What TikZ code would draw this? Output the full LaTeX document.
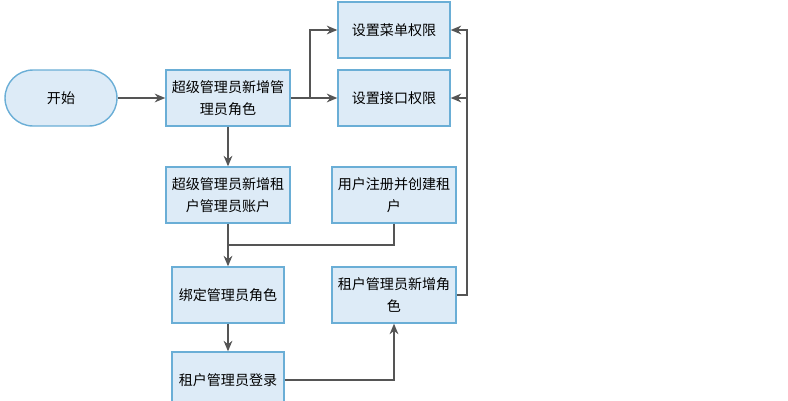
\documentclass[tikz,border=0pt]{standalone}
\usepackage{fontspec}
\setmainfont{Noto Sans CJK SC}
\usetikzlibrary{positioning,arrows.meta}
\definecolor{boxfill}{HTML}{DDEBF7}
\definecolor{boxline}{HTML}{6AAED6}
\definecolor{linegray}{HTML}{555555}
\tikzset{
 box/.style={rectangle, draw=boxline, fill=boxfill, thick, minimum width=2.24cm, minimum height=1.12cm, align=center, font=\fontsize{8}{12.5}\selectfont},
 startbox/.style={box, rounded corners=0.56cm},
 flow/.style={-{Stealth[length=6pt,width=5pt]}, draw=linegray, thick}
}
\begin{document}
\begin{tikzpicture}[x=0.02cm, y=-0.02cm]
  \useasboundingbox (0,0) rectangle (788,400);
  %Nodes
  \node[startbox] (start) at (61,98) {开始};
  \node[box] (addrole) at (228,98) {超级管理员新增管\\理员角色};
  \node[box] (menu) at (394,30) {设置菜单权限};
  \node[box] (iface) at (394,98) {设置接口权限};
  \node[box] (addacct) at (228,195) {超级管理员新增租\\户管理员账户};
  \node[box] (register) at (394,195) {用户注册并创建租\\户};
  \node[box] (bind) at (228,295) {绑定管理员角色};
  \node[box] (tenantrole) at (394,295) {租户管理员新增角\\色};
  \node[box] (login) at (228,380) {租户管理员登录};
  %Connectors
  \coordinate (split) at (310,98);
  \coordinate (join) at (228,245);
  \coordinate (back) at (467,295);
  \draw[flow] (start) -- (addrole);
  \draw[flow] (addrole) -- (iface);
  \draw[flow] (split) |- (menu);
  \draw[flow] (addrole) -- (addacct);
  \draw[flow] (addacct) -- (bind);
  \draw[thick, linegray] (register) |- (join);
  \draw[flow] (bind) -- (login);
  \draw[flow] (login) -| (tenantrole);
  \draw[flow] (tenantrole) -| (back) |- (menu);
  \draw[flow] (back |- iface) -- (iface);
\end{tikzpicture}
\end{document}
